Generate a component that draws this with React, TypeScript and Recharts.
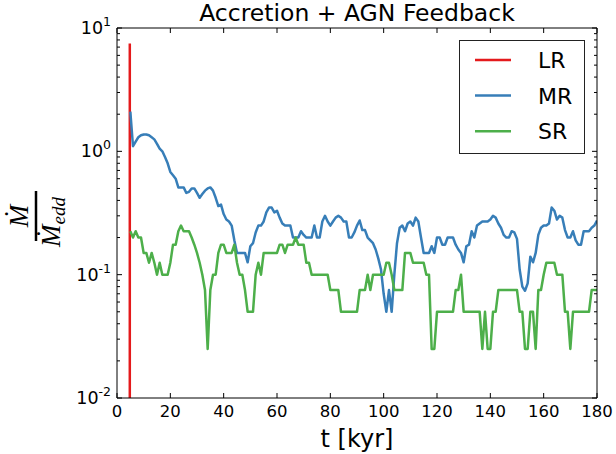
import { Legend, Line, LineChart, XAxis, YAxis } from "recharts";

// one sample per kyr, starting at T_START
const T_START = 5;

const MR_VALUES = [
  2.1, 1.1, 1.2, 1.3, 1.35, 1.37, 1.37, 1.35, 1.3, 1.25,
  1.15, 1.05, 1.0, 0.9, 0.8, 0.68, 0.64, 0.6, 0.51, 0.51,
  0.51, 0.46, 0.47, 0.5, 0.5, 0.46, 0.42, 0.45, 0.48, 0.5,
  0.51, 0.48, 0.42, 0.36, 0.37, 0.31, 0.28, 0.27, 0.25, 0.19,
  0.15, 0.15, 0.15, 0.15, 0.126, 0.17, 0.18, 0.22, 0.25, 0.25,
  0.27, 0.32, 0.35, 0.35, 0.32, 0.33, 0.29, 0.26, 0.25, 0.25,
  0.25, 0.2, 0.2, 0.2, 0.225, 0.21, 0.2, 0.2, 0.2, 0.25,
  0.2, 0.2, 0.27, 0.3, 0.27, 0.25, 0.27, 0.29, 0.3, 0.29,
  0.27, 0.27, 0.2, 0.2, 0.22, 0.25, 0.275, 0.23, 0.23, 0.2,
  0.19, 0.18, 0.16, 0.135, 0.11, 0.07, 0.05, 0.075, 0.05, 0.1,
  0.18, 0.24, 0.25, 0.225, 0.26, 0.27, 0.25, 0.29, 0.27, 0.2,
  0.15, 0.15, 0.15, 0.17, 0.15, 0.2, 0.2, 0.175, 0.175, 0.2,
  0.2, 0.2, 0.175, 0.16, 0.15, 0.126, 0.17, 0.175, 0.225, 0.2,
  0.25, 0.26, 0.27, 0.27, 0.27, 0.28, 0.3, 0.29, 0.26, 0.24,
  0.21, 0.2, 0.2, 0.225, 0.22, 0.195, 0.11, 0.08, 0.074, 0.085,
  0.14, 0.126, 0.15, 0.21, 0.24, 0.25, 0.25, 0.26, 0.35, 0.33,
  0.28, 0.3, 0.29, 0.23, 0.2, 0.2, 0.225, 0.19, 0.175, 0.175,
  0.225, 0.225, 0.225, 0.24, 0.25, 0.275,
];

const SR_VALUES = [
  0.225, 0.2, 0.225, 0.2, 0.2, 0.15, 0.15, 0.125, 0.15, 0.125,
  0.1, 0.125, 0.1, 0.1, 0.1, 0.125, 0.175, 0.175, 0.225, 0.25,
  0.225, 0.225, 0.225, 0.2, 0.175, 0.15, 0.125, 0.1, 0.075, 0.025,
  0.075, 0.1, 0.1, 0.15, 0.175, 0.175, 0.15, 0.15, 0.15, 0.175,
  0.125, 0.1, 0.1, 0.075, 0.05, 0.05, 0.05, 0.1, 0.125, 0.1,
  0.15, 0.15, 0.15, 0.15, 0.15, 0.15, 0.175, 0.175, 0.15, 0.175,
  0.175, 0.175, 0.2, 0.175, 0.175, 0.175, 0.125, 0.125, 0.1, 0.1,
  0.1, 0.1, 0.1, 0.1, 0.1, 0.075, 0.075, 0.075, 0.075, 0.05,
  0.05, 0.05, 0.05, 0.05, 0.05, 0.05, 0.075, 0.075, 0.075, 0.1,
  0.075, 0.1, 0.1, 0.1, 0.1, 0.1, 0.125, 0.125, 0.1, 0.075,
  0.075, 0.075, 0.075, 0.15, 0.15, 0.15, 0.125, 0.125, 0.125, 0.125,
  0.125, 0.1, 0.1, 0.025, 0.025, 0.05, 0.05, 0.05, 0.05, 0.05,
  0.05, 0.05, 0.075, 0.075, 0.1, 0.05, 0.05, 0.05, 0.05, 0.05,
  0.05, 0.05, 0.025, 0.05, 0.025, 0.025, 0.05, 0.05, 0.075, 0.075,
  0.075, 0.075, 0.075, 0.075, 0.075, 0.075, 0.05, 0.05, 0.025, 0.025,
  0.05, 0.05, 0.025, 0.075, 0.075, 0.1, 0.125, 0.125, 0.125, 0.125,
  0.1, 0.1, 0.1, 0.05, 0.05, 0.025, 0.05, 0.05, 0.05, 0.05,
  0.05, 0.05, 0.05, 0.075, 0.075, 0.075,
];

// LR only has the single spike right at the start
const LR_TIMES = [4.8, 4.8];
const LR_VALUES = [7.5, 0.01];

const X_TICKS = [0, 20, 40, 60, 80, 100, 120, 140, 160, 180];
const Y_TICKS = [
  0.01, 0.02, 0.03, 0.04, 0.05, 0.06, 0.07, 0.08, 0.09,
  0.1, 0.2, 0.3, 0.4, 0.5, 0.6, 0.7, 0.8, 0.9,
  1, 2, 3, 4, 5, 6, 7, 8, 9, 10,
];

const COLORS = { LR: "#e41a1c", MR: "#377eb8", SR: "#4daf4a" };
const FONT = "'DejaVu Sans', sans-serif";

const mrData = MR_VALUES.map((v, i) => ({ t: T_START + i, v }));
const srData = SR_VALUES.map((v, i) => ({ t: T_START + i, v }));
const lrData = LR_TIMES.map((t, i) => ({ t, v: LR_VALUES[i] }));

const isMajor = (v: number) => {
  const e = Math.log10(v);
  return Math.abs(e - Math.round(e)) < 1e-6;
};

const BottomTick = ({ x, y, payload }: any) => (
  <g>
    <line x1={x} x2={x} y1={y} y2={y - 5} stroke="#000" />
    <text x={x} y={y + 19} textAnchor="middle" fontSize={16.5} fontFamily={FONT} fill="#000">
      {payload.value}
    </text>
  </g>
);

const TopTick = ({ x, y }: any) => (
  <line x1={x} x2={x} y1={y} y2={y + 5} stroke="#000" />
);

const LeftTick = ({ x, y, payload }: any) => {
  const major = isMajor(payload.value);
  const exp = Math.round(Math.log10(payload.value));
  return (
    <g>
      <line x1={x} x2={x + (major ? 5 : 3)} y1={y} y2={y} stroke="#000" />
      {major && (
        <text x={x - 6} y={y + 6} textAnchor="end" fontSize={17.5} fontFamily={FONT} fill="#000">
          10
          <tspan dy={-8} fontSize={12.5}>
            {exp}
          </tspan>
        </text>
      )}
    </g>
  );
};

const RightTick = ({ x, y, payload }: any) => {
  const major = isMajor(payload.value);
  return <line x1={x} x2={x - (major ? 5 : 3)} y1={y} y2={y} stroke="#000" />;
};

const LegendBox = ({ payload }: any) => (
  <svg width={126} height={115}>
    <rect x={0.5} y={0.5} width={125} height={113} fill="#fff" stroke="#222" />
    {(payload || []).map((p: any, i: number) => (
      <g key={p.value}>
        <line x1={16} x2={52} y1={20 + i * 35.6} y2={20 + i * 35.6} stroke={p.color} strokeWidth={2.5} />
        <text x={79} y={28 + i * 35.6} fontSize={22} fontFamily={FONT} fill="#000">
          {p.value}
        </text>
      </g>
    ))}
  </svg>
);

const MdotLabel = () => (
  <g transform="rotate(-90, 36, 216)" fontFamily="'Liberation Serif', serif" fontStyle="italic" fill="#000">
    <text x={36} y={208} textAnchor="middle" fontSize={27}>
      Ṁ
    </text>
    <line x1={11} x2={61} y1={216} y2={216} stroke="#000" strokeWidth={2.5} />
    <text x={30} y={240} textAnchor="middle" fontSize={27}>
      Ṁ
      <tspan dy={5} fontSize={19}>
        edd
      </tspan>
    </text>
  </g>
);

export default function App() {
  return (
    <div style={{ position: "absolute", left: 0, top: 0, width: 616, height: 454, background: "#fff" }}>
      <LineChart width={616} height={454} margin={{ top: 27, right: 18, left: 0, bottom: 0 }}>
        <XAxis
          xAxisId="b"
          type="number"
          dataKey="t"
          domain={[0, 180]}
          ticks={X_TICKS}
          interval={0}
          height={56}
          tickSize={0}
          tickMargin={0}
          tickLine={false}
          tick={<BottomTick />}
          axisLine={{ stroke: "#000" }}
          allowDataOverflow
          label={{
            content: () => (
              <text x={357} y={447} textAnchor="middle" fontSize={24} fontFamily={FONT} fill="#000">
                t [kyr]
              </text>
            ),
          }}
        />
        <XAxis
          xAxisId="top"
          orientation="top"
          type="number"
          dataKey="t"
          domain={[0, 180]}
          ticks={X_TICKS}
          interval={0}
          height={1}
          tickSize={0}
          tickMargin={0}
          tickLine={false}
          tick={<TopTick />}
          axisLine={{ stroke: "#000" }}
          allowDataOverflow
          label={{
            content: () => (
              <text x={357} y={21} textAnchor="middle" fontSize={23.5} fontFamily={FONT} fill="#000">
                Accretion + AGN Feedback
              </text>
            ),
          }}
        />
        <YAxis
          yAxisId="l"
          type="number"
          scale="log"
          domain={[0.01, 10]}
          ticks={Y_TICKS}
          interval={0}
          width={117}
          tickSize={0}
          tickMargin={0}
          tickLine={false}
          tick={<LeftTick />}
          axisLine={{ stroke: "#000" }}
          allowDataOverflow
          label={{ content: () => <MdotLabel /> }}
        />
        <YAxis
          yAxisId="r"
          orientation="right"
          type="number"
          scale="log"
          domain={[0.01, 10]}
          ticks={Y_TICKS}
          interval={0}
          width={1}
          tickSize={0}
          tickMargin={0}
          tickLine={false}
          tick={<RightTick />}
          axisLine={{ stroke: "#000" }}
          allowDataOverflow
        />
        <Legend
          layout="vertical"
          align="center"
          verticalAlign="middle"
          content={<LegendBox />}
          wrapperStyle={{ left: 459, top: 40, width: 126, height: 115 }}
        />
        <Line
          name="LR"
          data={lrData}
          xAxisId="top"
          yAxisId="r"
          dataKey="v"
          stroke={COLORS.LR}
          strokeWidth={2.5}
          dot={false}
          isAnimationActive={false}
        />
        <Line
          name="MR"
          data={mrData}
          xAxisId="b"
          yAxisId="l"
          dataKey="v"
          stroke={COLORS.MR}
          strokeWidth={2.5}
          strokeLinejoin="round"
          dot={false}
          isAnimationActive={false}
        />
        <Line
          name="SR"
          data={srData}
          xAxisId="b"
          yAxisId="l"
          dataKey="v"
          stroke={COLORS.SR}
          strokeWidth={2.5}
          strokeLinejoin="round"
          dot={false}
          isAnimationActive={false}
        />
      </LineChart>
    </div>
  );
}
